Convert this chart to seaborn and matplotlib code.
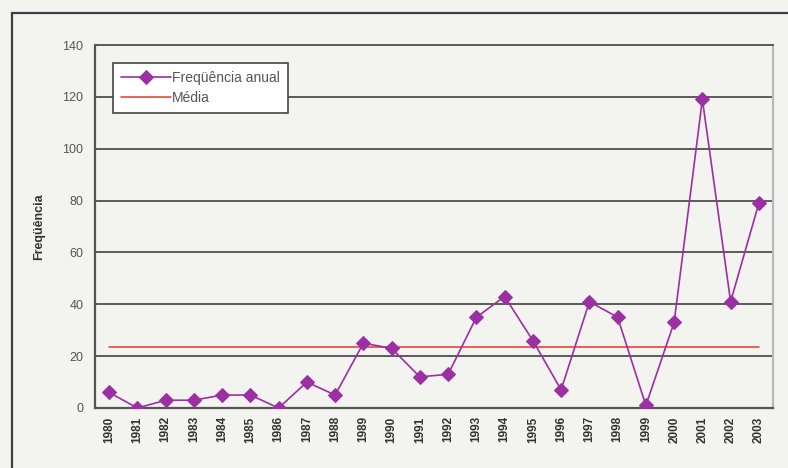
import numpy as np
import pandas as pd
import matplotlib
matplotlib.use('Agg')
import matplotlib.pyplot as plt
import seaborn as sns
from matplotlib.patches import Rectangle

# data
anos = ['1980', '1981', '1982', '1983', '1984', '1985', '1986', '1987',
        '1988', '1989', '1990', '1991', '1992', '1993', '1994', '1995',
        '1996', '1997', '1998', '1999', '2000', '2001', '2002', '2003']
freq = [6, 0, 3, 3, 5, 5, 0, 10, 5, 25, 23, 12, 13, 35, 43, 26,
        7, 41, 35, 1, 33, 119, 41, 79]
media = 23.7
y_ticks = [0, 20, 40, 60, 80, 100, 120, 140]

df = pd.DataFrame({'ano': anos, 'freq': freq})
df['pos'] = np.arange(len(anos))
df['media'] = media

sns.set_style('white')
plt.rcParams['font.family'] = ['Liberation Sans', 'DejaVu Sans']

paper = '#f3f3ef'
fig = plt.figure(figsize=(7.88, 4.68), dpi=100, facecolor=paper)
ax = fig.add_axes([95 / 788, 60 / 468, 678 / 788, 363 / 468])
ax.set_facecolor(paper)

# outer frame of the chart box
fig.patches.append(Rectangle((12 / 788, -0.05), 1.1, (468 - 13) / 468 + 0.05,
                             transform=fig.transFigure, fill=False,
                             edgecolor='#3c3c44', linewidth=1.6, zorder=0))

sns.lineplot(data=df, x='pos', y='freq', ax=ax, color='#9c2fa3', linewidth=1.2,
             marker='D', markersize=7.5, markeredgecolor='#9c2fa3',
             label='Freqüência anual', zorder=3)
sns.lineplot(data=df, x='pos', y='media', ax=ax, color='#e23b2a', linewidth=1.1,
             label='Média', zorder=2)

ax.set_xlim(-0.5, len(anos) - 0.5)
ax.set_ylim(0, 140)
ax.set_yticks(y_ticks)
ax.set_yticklabels([str(v) for v in y_ticks], fontsize=9, color='#555555')
ax.set_xticks(df['pos'])
ax.set_xticklabels(anos, rotation=90, fontsize=8.5, fontweight='bold', color='#333333')
ax.set_xticks(np.arange(-0.5, len(anos)), minor=True)
ax.tick_params(axis='x', which='major', length=0, pad=6)
ax.tick_params(axis='x', which='minor', length=4, color='#555555', width=1.2)
ax.tick_params(axis='y', length=5, color='#555555', width=1.2)

for v in y_ticks[1:]:
    ax.axhline(v, color='#5a5a5a', linewidth=1.4, zorder=1)

for side in ['left', 'bottom']:
    ax.spines[side].set_color('#555555')
    ax.spines[side].set_linewidth(1.6)
ax.spines['right'].set_color('#b8b8c0')
ax.spines['right'].set_linewidth(1.6)
ax.spines['top'].set_color('#5a5a5a')
ax.spines['top'].set_linewidth(1.4)

ax.set_xlabel('')
ax.set_ylabel('Freqüência', fontsize=9, fontweight='bold', color='#333333', labelpad=12)

leg = ax.legend(loc='upper left', bbox_to_anchor=(0.027, 0.95), fontsize=10,
                frameon=True, fancybox=False, framealpha=1, facecolor='white',
                edgecolor='#444444', borderpad=0.55, labelspacing=0.45,
                handlelength=3.6, handletextpad=0.1, borderaxespad=0)
leg.get_frame().set_linewidth(1.2)
for t in leg.get_texts():
    t.set_color('#555555')

fig.savefig('out.png', dpi=100, facecolor=paper)
